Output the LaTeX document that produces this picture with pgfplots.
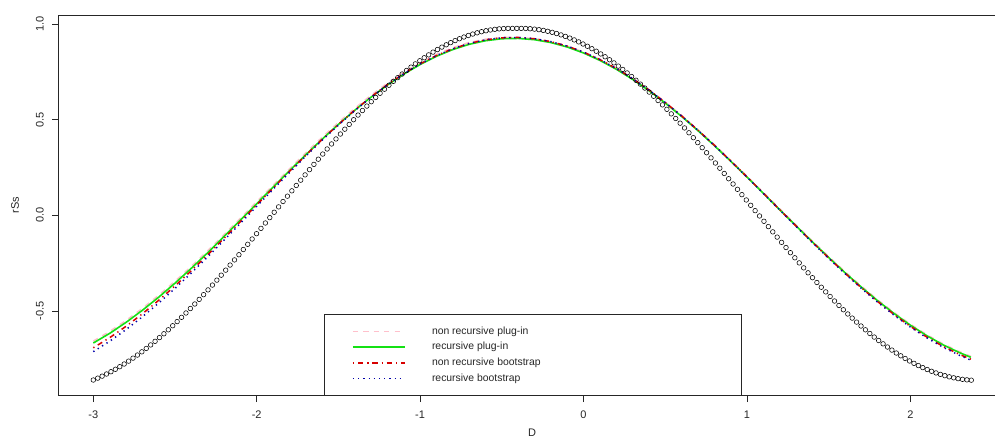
\documentclass[border=0pt]{standalone}
\usepackage{pgfplots}
\pgfplotsset{compat=1.18}
\usepackage{pgfplotstable}
\usepackage{fontspec}
\setmainfont{Liberation Sans}

\definecolor{rpink}{RGB}{255,192,203}
\definecolor{rgreen}{RGB}{20,225,20}
\definecolor{rred}{RGB}{215,0,0}
\definecolor{rblue}{RGB}{0,0,170}

\pgfplotstableread{
x y
-3.000 -0.8610
-2.973 -0.8512
-2.946 -0.8408
-2.919 -0.8296
-2.892 -0.8176
-2.865 -0.8049
-2.838 -0.7914
-2.811 -0.7773
-2.784 -0.7623
-2.757 -0.7467
-2.730 -0.7305
-2.703 -0.7136
-2.676 -0.6959
-2.649 -0.6776
-2.622 -0.6588
-2.595 -0.6392
-2.568 -0.6192
-2.541 -0.5985
-2.514 -0.5773
-2.487 -0.5556
-2.460 -0.5333
-2.433 -0.5106
-2.406 -0.4873
-2.379 -0.4636
-2.352 -0.4395
-2.325 -0.4149
-2.298 -0.3899
-2.271 -0.3647
-2.244 -0.3389
-2.217 -0.3129
-2.190 -0.2867
-2.163 -0.2601
-2.136 -0.2332
-2.109 -0.2062
-2.082 -0.1789
-2.055 -0.1515
-2.028 -0.1238
-2.001 -0.0960
-1.974 -0.0682
-1.947 -0.0402
-1.920 -0.0122
-1.893 0.0159
-1.866 0.0440
-1.839 0.0721
-1.812 0.1000
-1.785 0.1280
-1.758 0.1559
-1.731 0.1837
-1.704 0.2113
-1.677 0.2388
-1.650 0.2662
-1.623 0.2932
-1.596 0.3202
-1.569 0.3467
-1.542 0.3730
-1.515 0.3991
-1.488 0.4248
-1.461 0.4502
-1.434 0.4751
-1.407 0.4997
-1.380 0.5239
-1.353 0.5477
-1.326 0.5710
-1.299 0.5938
-1.272 0.6161
-1.245 0.6379
-1.218 0.6592
-1.191 0.6799
-1.164 0.7001
-1.137 0.7196
-1.110 0.7385
-1.083 0.7569
-1.056 0.7746
-1.029 0.7916
-1.002 0.8080
-0.975 0.8236
-0.948 0.8387
-0.921 0.8530
-0.894 0.8665
-0.867 0.8792
-0.840 0.8913
-0.813 0.9026
-0.786 0.9132
-0.759 0.9229
-0.732 0.9319
-0.705 0.9400
-0.678 0.9474
-0.651 0.9540
-0.624 0.9597
-0.597 0.9647
-0.570 0.9688
-0.543 0.9721
-0.516 0.9745
-0.489 0.9761
-0.462 0.9769
-0.435 0.9770
-0.408 0.9770
-0.381 0.9770
-0.354 0.9766
-0.327 0.9753
-0.300 0.9732
-0.273 0.9703
-0.246 0.9665
-0.219 0.9618
-0.192 0.9564
-0.165 0.9501
-0.138 0.9430
-0.111 0.9351
-0.084 0.9263
-0.057 0.9168
-0.030 0.9065
-0.003 0.8954
0.024 0.8836
0.051 0.8709
0.078 0.8576
0.105 0.8435
0.132 0.8287
0.159 0.8131
0.186 0.7968
0.213 0.7799
0.240 0.7624
0.267 0.7442
0.294 0.7253
0.321 0.7058
0.348 0.6858
0.375 0.6652
0.402 0.6440
0.429 0.6222
0.456 0.5999
0.483 0.5772
0.510 0.5540
0.537 0.5302
0.564 0.5061
0.591 0.4816
0.618 0.4567
0.645 0.4314
0.672 0.4057
0.699 0.3798
0.726 0.3535
0.753 0.3270
0.780 0.3003
0.807 0.2733
0.834 0.2461
0.861 0.2187
0.888 0.1912
0.915 0.1636
0.942 0.1358
0.969 0.1079
0.996 0.0801
1.023 0.0522
1.050 0.0243
1.077 -0.0035
1.104 -0.0313
1.131 -0.0590
1.158 -0.0866
1.185 -0.1140
1.212 -0.1414
1.239 -0.1686
1.266 -0.1955
1.293 -0.2221
1.320 -0.2486
1.347 -0.2748
1.374 -0.3006
1.401 -0.3261
1.428 -0.3513
1.455 -0.3760
1.482 -0.4004
1.509 -0.4244
1.536 -0.4480
1.563 -0.4711
1.590 -0.4937
1.617 -0.5158
1.644 -0.5373
1.671 -0.5583
1.698 -0.5787
1.725 -0.5986
1.752 -0.6178
1.779 -0.6365
1.806 -0.6544
1.833 -0.6718
1.860 -0.6885
1.887 -0.7046
1.914 -0.7199
1.941 -0.7344
1.968 -0.7483
1.995 -0.7613
2.022 -0.7738
2.049 -0.7854
2.076 -0.7961
2.103 -0.8061
2.130 -0.8154
2.157 -0.8239
2.184 -0.8315
2.211 -0.8383
2.238 -0.8443
2.265 -0.8495
2.292 -0.8539
2.319 -0.8574
2.346 -0.8601
2.373 -0.8618
}\circles

\pgfplotstableread{
x pink green red blue
-3.0 -0.6576 -0.6676 -0.6926 -0.7126
-2.9 -0.6072 -0.6172 -0.6399 -0.6584
-2.8 -0.5500 -0.5600 -0.5805 -0.5975
-2.7 -0.4867 -0.4967 -0.5151 -0.5307
-2.6 -0.4181 -0.4281 -0.4445 -0.4588
-2.5 -0.3447 -0.3547 -0.3692 -0.3821
-2.4 -0.2668 -0.2768 -0.2894 -0.3012
-2.3 -0.1857 -0.1957 -0.2066 -0.2172
-2.2 -0.1012 -0.1112 -0.1204 -0.1299
-2.1 -0.0157 -0.0257 -0.0334 -0.0418
-2.0 0.0707 0.0607 0.0545 0.0470
-1.9 0.1570 0.1470 0.1422 0.1356
-1.8 0.2425 0.2325 0.2290 0.2233
-1.7 0.3263 0.3163 0.3140 0.3091
-1.6 0.4075 0.3975 0.3963 0.3921
-1.5 0.4853 0.4753 0.4751 0.4716
-1.4 0.5590 0.5490 0.5497 0.5469
-1.3 0.6278 0.6178 0.6194 0.6171
-1.2 0.6910 0.6810 0.6833 0.6815
-1.1 0.7480 0.7380 0.7410 0.7396
-1.0 0.7982 0.7882 0.7917 0.7907
-0.9 0.8412 0.8312 0.8352 0.8345
-0.8 0.8764 0.8664 0.8708 0.8704
-0.7 0.9037 0.8937 0.8984 0.8981
-0.6 0.9205 0.9125 0.9174 0.9173
-0.5 0.9299 0.9229 0.9279 0.9279
-0.4 0.9296 0.9246 0.9296 0.9296
-0.3 0.9229 0.9179 0.9229 0.9229
-0.2 0.9079 0.9029 0.9078 0.9078
-0.1 0.8847 0.8797 0.8845 0.8844
0.0 0.8535 0.8485 0.8531 0.8530
0.1 0.8148 0.8098 0.8143 0.8141
0.2 0.7687 0.7637 0.7679 0.7677
0.3 0.7158 0.7108 0.7148 0.7144
0.4 0.6567 0.6517 0.6554 0.6549
0.5 0.5918 0.5868 0.5901 0.5896
0.6 0.5219 0.5169 0.5199 0.5192
0.7 0.4477 0.4427 0.4453 0.4444
0.8 0.3696 0.3646 0.3667 0.3657
0.9 0.2882 0.2832 0.2848 0.2837
1.0 0.2048 0.1998 0.2009 0.1996
1.1 0.1201 0.1151 0.1156 0.1141
1.2 0.0349 0.0299 0.0298 0.0281
1.3 -0.0500 -0.0550 -0.0557 -0.0576
1.4 -0.1337 -0.1387 -0.1401 -0.1422
1.5 -0.2155 -0.2205 -0.2226 -0.2250
1.6 -0.2947 -0.2997 -0.3026 -0.3052
1.7 -0.3702 -0.3752 -0.3789 -0.3818
1.8 -0.4417 -0.4467 -0.4512 -0.4544
1.9 -0.5081 -0.5131 -0.5185 -0.5220
2.0 -0.5692 -0.5742 -0.5805 -0.5843
2.1 -0.6238 -0.6288 -0.6360 -0.6401
2.2 -0.6720 -0.6770 -0.6852 -0.6896
2.3 -0.7127 -0.7177 -0.7270 -0.7317
2.37 -0.7372 -0.7422 -0.7522 -0.7572
}\curves

\begin{document}
\begin{tikzpicture}
\begin{axis}[
  name=ax,
  scale only axis, width=936.3pt, height=380.7pt,
  xmin=-3.2118, xmax=2.518, ymin=-0.943, ymax=1.047,
  axis line style={black!85, line width=0.8pt},
  tick align=outside, major tick length=6.5pt, tick pos=left,
  tick style={black!85, line width=0.7pt},
  xtick={-3,-2,-1,0,1,2}, xticklabels={-3,-2,-1,0,1,2},
  ytick={-0.5,0,0.5,1}, yticklabels={-0.5,0.0,0.5,1.0},
  tick label style={font=\fontsize{11}{13}\selectfont, text=black!85},
  xticklabel style={anchor=north, inner sep=0pt, yshift=-8.8pt},
  yticklabel style={xshift=-8.2pt, rotate=90, anchor=south, inner sep=0pt},
  xlabel={D}, ylabel={rSs},
  label style={font=\fontsize{11}{13}\selectfont, text=black!85},
  xlabel style={at={(axis description cs:0.5055,-0.098)}, anchor=center},
  ylabel style={at={(axis description cs:-0.04667,0.5)}, anchor=center},
  legend image code/.code={\draw[#1] (0pt,0pt) -- (51.6pt,0pt);},
  legend cell align=left,
  legend style={at={(axis description cs:0.28335,0)}, anchor=south west,
    draw=black!85, line width=0.8pt, fill=white,
    inner xsep=27.7pt, inner ysep=11.4pt, row sep=5.3pt,
    font=\fontsize{10.4}{12}\selectfont,
    nodes={inner sep=0pt, text height=8pt, text depth=2.5pt, text=black!85},
    /tikz/every odd column/.append style={column sep=26.7pt}},
]
\addplot[forget plot, only marks, mark=o, mark size=2.3pt, mark options={line width=0.55pt, draw=black}] table[x=x,y=y]{\circles};
\addplot[rpink, line width=1.5pt, dash pattern=on 5.2pt off 5.2pt] table[x=x,y=pink]{\curves};
\addlegendentry{\makebox[282pt][l]{non recursive plug-in}}
\addplot[rgreen, line width=1.6pt] table[x=x,y=green]{\curves};
\addlegendentry{recursive plug-in}
\addplot[rred, line width=1.5pt, dash pattern=on 1.3pt off 3.9pt on 5.2pt off 3.9pt] table[x=x,y=red]{\curves};
\addlegendentry{non recursive bootstrap}
\addplot[rblue, line width=1.5pt, dash pattern=on 1.3pt off 3.9pt] table[x=x,y=blue]{\curves};
\addlegendentry{recursive bootstrap}
\end{axis}
\pgfresetboundingbox
\path (ax.south west) ++(-58.7pt,-49.3pt) rectangle ++(995pt,445pt);
\end{tikzpicture}
\end{document}
